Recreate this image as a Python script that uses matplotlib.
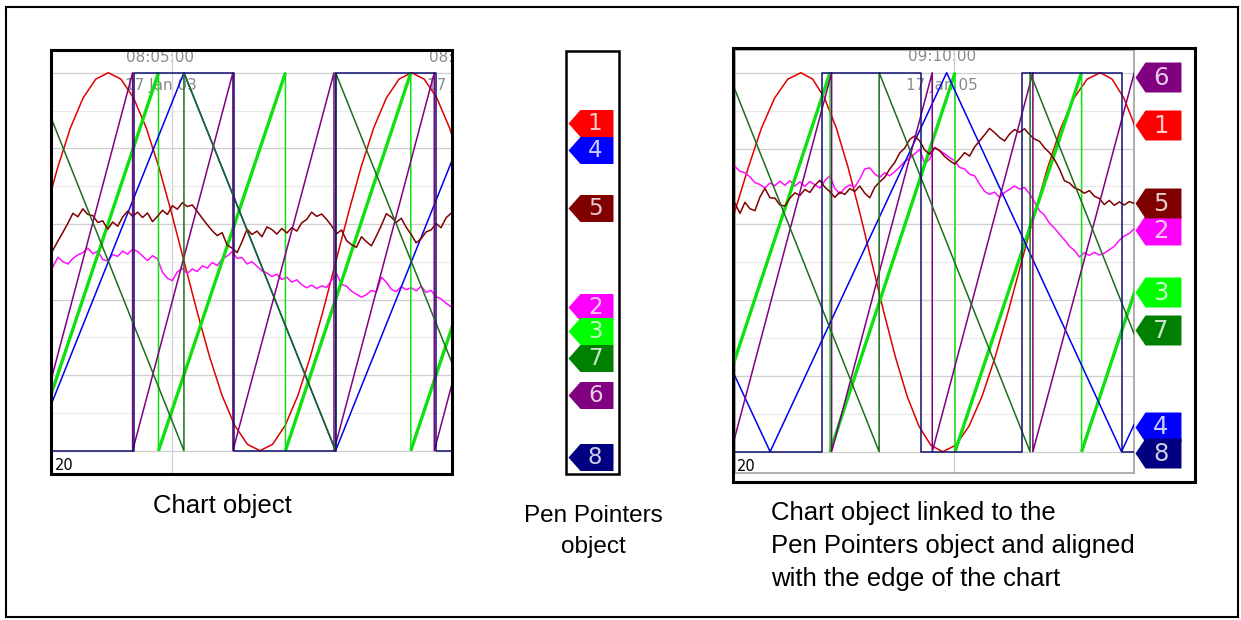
import matplotlib
matplotlib.use('Agg')
import matplotlib.pyplot as plt
import numpy as np
from matplotlib.path import Path
from matplotlib.patches import Rectangle

W, H = 1241, 620

# ---- pens: 1..8 ----
pen_ids = ['1', '2', '3', '4', '5', '6', '7', '8']
line_colors = ['#e00000', '#ff10ff', '#10e010', '#0000f0', '#800000', '#800080', '#1c6e1c', '#101070']
tag_colors = ['#ff0000', '#ff00ff', '#00ff00', '#0000ff', '#800000', '#800080', '#008000', '#000080']

# sample times for the noisy pens (percent of chart width)
noise_t = np.linspace(0, 100, 81)

# ---- left chart (values in % of span, x in % of chart width) ----
c1_red_x = [-1.98, 1.2, 4.38, 7.55, 10.73, 13.9, 17.08, 20.25, 23.43, 26.6, 29.78, 32.95,
            36.13, 39.3, 42.48, 45.65, 48.83, 52.0, 55.18, 58.35, 61.53, 64.7, 67.88, 71.05,
            74.23, 77.4, 80.58, 83.75, 86.93, 90.1, 93.28, 96.45, 99.63, 102.8]
c1_red_y = [62.9, 75, 85.4, 93.3, 98.3, 100, 98.3, 93.3, 85.4, 75, 62.9, 50, 37.1, 25, 14.6,
            6.7, 1.7, 0, 1.7, 6.7, 14.6, 25, 37.1, 50, 62.9, 75, 85.4, 93.3, 98.3, 100, 98.3,
            93.3, 85.4, 75]
c1_mag_y = [48.7, 51.2, 50.0, 49.4, 50.9, 51.8, 52.4, 53.6, 52.1, 52.8, 50.6, 50.2, 51.9, 51.4,
            52.8, 52.0, 53.3, 52.7, 51.5, 50.3, 51.6, 50.8, 47.2, 45.6, 45.0, 47.3, 48.2, 46.9,
            48.1, 47.4, 48.9, 48.3, 49.8, 49.0, 50.7, 51.5, 52.6, 50.9, 51.1, 49.4, 50.0, 48.8,
            47.6, 47.0, 46.1, 46.7, 45.3, 45.9, 44.6, 45.2, 43.9, 43.1, 43.8, 42.9, 43.6, 43.2,
            45.1, 46.8, 44.0, 43.5, 42.2, 41.4, 40.6, 41.3, 42.4, 42.0, 45.9, 44.6, 42.7, 42.1,
            43.4, 42.6, 43.1, 42.3, 43.5, 41.9, 42.4, 40.7, 40.2, 39.0, 38.1]
c1_grn_x = [-5.2, 26.5, 26.5, 58.4, 58.4, 89.9, 89.9, 121.6]
c1_grn_y = [0, 100, 0, 100, 0, 100, 0, 100]
c1_blu_x = [-5.1, 32.9, 71.0, 109.1]
c1_blu_y = [0, 100, 0, 100]
c1_mar_y = [53.1, 55.5, 57.8, 60.2, 62.8, 61.9, 64.0, 62.5, 62.2, 60.4, 60.8, 58.6, 60.5, 59.4,
            61.8, 63.4, 62.0, 63.1, 61.7, 62.9, 60.6, 62.0, 63.6, 62.5, 64.8, 63.9, 65.6, 64.6,
            65.0, 63.3, 61.5, 59.8, 58.2, 56.9, 57.7, 54.4, 53.6, 52.4, 55.3, 58.6, 57.2, 58.1,
            56.6, 59.2, 58.5, 57.3, 58.8, 57.6, 59.0, 58.1, 60.3, 61.2, 63.1, 62.0, 62.6, 61.2,
            59.5, 57.4, 58.4, 55.6, 54.5, 53.8, 56.6, 55.3, 54.2, 56.8, 59.6, 62.7, 61.8, 60.4,
            61.5, 59.1, 57.2, 55.0, 56.1, 57.9, 58.4, 60.1, 59.0, 61.6, 62.8]
c1_pur_x = [-5.2, 20.0, 20.0, 45.2, 45.2, 70.6, 70.6, 95.8, 95.8, 121.0]
c1_pur_y = [0, 100, 0, 100, 0, 100, 0, 100, 0, 100]
c1_dgr_x = [-5.0, 32.9, 32.9, 71.0, 71.0, 109.1]
c1_dgr_y = [100, 0, 100, 0, 100, 0]
c1_nav_x = [0, 20.4, 20.4, 45.6, 45.6, 71.0, 71.0, 96.2, 96.2, 100]
c1_nav_y = [0, 0, 100, 100, 0, 0, 100, 100, 0, 0]

# ---- right chart ----
c3_red_x = [-0.2, 3.34, 6.63, 9.92, 13.21, 16.5, 19.46, 22.42, 25.37, 28.33, 31.29, 34.25,
            37.21, 40.17, 43.12, 46.08, 49.04, 52.0, 55.29, 58.58, 61.87, 65.16, 68.45, 71.74,
            75.03, 78.32, 81.61, 84.9, 88.19, 91.48, 94.44, 97.4, 100.35, 103.3]
c3_red_y = [62.9, 75, 85.4, 93.3, 98.3, 100, 98.3, 93.3, 85.4, 75, 62.9, 50, 37.1, 25, 14.6,
            6.7, 1.7, 0, 1.7, 6.7, 14.6, 25, 37.1, 50, 62.9, 75, 85.4, 93.3, 98.3, 100, 98.3,
            93.3, 85.4, 75]
c3_mag_y = [75.2, 74.0, 73.6, 72.5, 71.0, 70.5, 69.6, 70.9, 70.2, 71.4, 70.3, 71.5, 70.1, 71.2,
            70.0, 71.3, 70.4, 69.6, 71.5, 72.8, 69.5, 68.0, 69.6, 70.4, 69.8, 72.0, 74.6, 74.9,
            73.3, 72.4, 73.6, 72.8, 73.9, 75.1, 76.6, 77.4, 78.6, 79.8, 76.0, 77.2, 80.3, 79.5,
            78.6, 77.6, 76.8, 75.0, 74.6, 73.2, 72.8, 70.6, 68.7, 67.9, 68.5, 67.1, 68.4, 69.2,
            70.1, 69.3, 69.7, 68.1, 65.9, 63.6, 62.4, 60.3, 59.0, 57.4, 55.9, 54.2, 53.1, 51.4,
            52.5, 51.8, 52.6, 51.9, 52.4, 53.3, 54.2, 55.8, 56.9, 57.6, 58.9]
c3_grn_x = [-7.7, 23.8, 23.8, 55.1, 55.1, 86.8, 86.8, 118.3]
c3_grn_y = [0, 100, 0, 100, 0, 100, 0, 100]
c3_blu_x = [-35.4, 8.8, 53.0, 96.8, 140.6]
c3_blu_y = [100, 0, 100, 0, 100]
c3_mar_y = [65.5, 62.9, 65.8, 64.1, 63.6, 67.2, 69.5, 67.0, 66.9, 65.1, 64.8, 66.9, 68.3, 67.6,
            69.2, 68.4, 70.3, 71.6, 69.8, 68.6, 67.1, 68.5, 67.9, 69.4, 68.7, 70.1, 68.2, 67.0,
            69.8, 71.2, 72.4, 74.6, 76.3, 78.8, 80.1, 82.4, 83.3, 82.0, 79.6, 78.5, 80.2, 79.4,
            77.9, 76.8, 75.9, 77.3, 78.9, 78.0, 80.4, 82.0, 83.6, 85.3, 84.2, 82.9, 82.0, 83.8,
            85.0, 84.3, 85.2, 83.7, 82.5, 81.9, 80.2, 78.9, 77.1, 74.6, 71.5, 70.9, 69.6, 69.1,
            68.2, 68.9, 67.4, 66.8, 65.2, 66.3, 65.0, 65.9, 65.1, 66.0, 65.5]
c3_pur_x = [-1.0, 24.2, 24.2, 49.4, 49.4, 74.6, 74.6, 100.0]
c3_pur_y = [0, 100, 0, 100, 0, 100, 0, 100]
c3_dgr_x = [-1.7, 36.1, 36.1, 73.9, 73.9, 111.7]
c3_dgr_y = [100, 0, 100, 0, 100, 0]
c3_nav_x = [0, 21.7, 21.7, 46.6, 46.6, 71.8, 71.8, 97.0, 97.0, 100]
c3_nav_y = [0, 0, 100, 100, 0, 0, 100, 100, 0, 0]

# pointer levels (% of span), pen order 1..8
mid_levels = [86.8, 38.1, 31.7, 79.6, 64.3, 14.8, 24.6, -1.6]
right_levels = [86.2, 58.5, 42.1, 6.6, 65.6, 98.9, 32.1, -0.3]

fig = plt.figure(figsize=(W / 100, H / 100), dpi=100)


def px_axes(x0, y0, x1, y1):
    return fig.add_axes([x0 / W, 1 - y1 / H, (x1 - x0) / W, (y1 - y0) / H])


def draw_chart(ax, series, ylim, vline, time_x, labels, date_lbl, framed):
    ax.set_xlim(0, 100)
    ax.set_ylim(*ylim)
    ax.set_yticks([0, 20, 40, 60, 80, 100])
    ax.set_yticks([10, 30, 50, 70, 90], minor=True)
    ax.set_xticks([vline])
    ax.grid(which='major', color='#cfcfcf', lw=0.9)
    ax.grid(which='minor', axis='y', color='#e9e9e9', lw=0.8)
    ax.tick_params(which='both', length=0, labelbottom=False, labelleft=False)
    for s in ax.spines.values():
        s.set_visible(framed)
        s.set_color('#a8a8a8')
        s.set_linewidth(1.3)
    for tx, lbl in zip(time_x, labels):
        ax.text(tx, ylim[1] - 1.6, lbl, ha='center', va='center', fontsize=11,
                color='#8a8a8a', family='DejaVu Sans', clip_on=True, zorder=1)
        ax.text(tx, 96.7, date_lbl, ha='center', va='center', fontsize=11,
                color='#8a8a8a', family='DejaVu Sans', clip_on=True, zorder=1)
    ax.text(0.4, -4.0, '20', ha='left', va='center', fontsize=10.5, color='black',
            family='DejaVu Sans', zorder=1)
    for i, (x, y) in enumerate(series):
        ax.plot(x, y, color=line_colors[i], lw=1.1, zorder=3 + i)
        if pen_ids[i] == '3':
            for j in range(len(x) - 1):
                if x[j] != x[j + 1]:
                    ax.plot(x[j:j + 2], y[j:j + 2], color=line_colors[i], lw=2.4,
                            zorder=3 + i, solid_capstyle='butt')


def tag_marker(tip_w, width, half_h):
    verts = [(0, 0), (tip_w, half_h), (width, half_h), (width, -half_h), (tip_w, -half_h), (0, 0)]
    codes = [Path.MOVETO] + [Path.LINETO] * 4 + [Path.CLOSEPOLY]
    return Path(verts, codes)


def draw_pointers(ax, levels, ylim, xmax, tip_x, marker, ms, text_dx, fs):
    ax.set_xlim(0, xmax)
    ax.set_ylim(*ylim)
    ax.axis('off')
    for i, lv in enumerate(levels):
        ax.plot([tip_x], [lv], ls='none', marker=marker, ms=ms, mew=0,
                color=tag_colors[i], clip_on=False, zorder=3 + i)
        ax.annotate(pen_ids[i], xy=(tip_x, lv), xytext=(text_dx, -0.5),
                    textcoords='offset points', ha='center', va='center',
                    fontsize=fs, color='white', alpha=0.8, family='DejaVu Sans',
                    zorder=3 + i, annotation_clip=False)


# left chart
ylim1 = (-5.82, 105.56)
ax1 = px_axes(53, 51.7, 451, 472.7)
draw_chart(ax1,
           [(c1_red_x, c1_red_y), (noise_t, c1_mag_y), (c1_grn_x, c1_grn_y),
            (c1_blu_x, c1_blu_y), (noise_t, c1_mar_y), (c1_pur_x, c1_pur_y),
            (c1_dgr_x, c1_dgr_y), (c1_nav_x, c1_nav_y)],
           ylim1, 30.0, [27.0, 103.0], ['08:05:00', '08:10:00'], '17 Jan 03', False)

# middle pen pointers object
axp = px_axes(567, 51.7, 618, 472.7)
draw_pointers(axp, mid_levels, ylim1, 51, 1.3,
              tag_marker(12, 45, 13.5), 64.8, 19.4, 16.5)

# right chart
ylim3 = (-5.70, 105.99)
ax3 = px_axes(735, 50, 1134.3, 473.3)
draw_chart(ax3,
           [(c3_red_x, c3_red_y), (noise_t, c3_mag_y), (c3_grn_x, c3_grn_y),
            (c3_blu_x, c3_blu_y), (noise_t, c3_mar_y), (c3_pur_x, c3_pur_y),
            (c3_dgr_x, c3_dgr_y), (c3_nav_x, c3_nav_y)],
           ylim3, 54.9, [51.9], ['09:10:00'], '17 Jan 05', True)

axq = px_axes(1134.3, 50, 1193, 473.3)
draw_pointers(axq, right_levels, ylim3, 58.7, 0.8,
              tag_marker(10, 46, 15), 66.2, 18.5, 17.5)

# overlay: frames and captions in pixel units
ov = fig.add_axes([0, 0, 1, 1])
ov.set_xlim(0, W)
ov.set_ylim(H, 0)
ov.axis('off')
ov.set_zorder(10)
ov.add_patch(Rectangle((6, 7), 1232, 610, fill=False, ec='black', lw=1.5))
ov.add_patch(Rectangle((51.3, 50), 400.7, 424.3, fill=False, ec='black', lw=2.2))
ov.add_patch(Rectangle((566.2, 51), 52.6, 423.3, fill=False, ec='black', lw=1.8))
ov.add_patch(Rectangle((732.8, 47.5), 461.9, 434.2, fill=False, ec='black', lw=2.2))

cap = dict(family='Liberation Sans', color='black', va='baseline')
ov.text(222.5, 513, 'Chart object', ha='center', fontsize=18.5, **cap)
ov.text(593, 522, 'Pen Pointers', ha='center', fontsize=17.5, **cap)
ov.text(593, 553, 'object', ha='center', fontsize=17.5, **cap)
ov.text(771, 520, 'Chart object linked to the', ha='left', fontsize=18.5, **cap)
ov.text(771, 553, 'Pen Pointers object and aligned', ha='left', fontsize=18.5, **cap)
ov.text(771, 586, 'with the edge of the chart', ha='left', fontsize=18.5, **cap)

fig.savefig('out.png', dpi=100)
